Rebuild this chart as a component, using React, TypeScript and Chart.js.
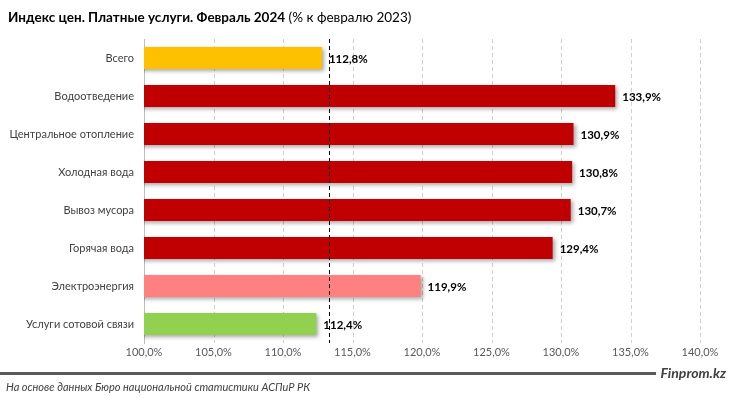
import React, { useEffect, useRef } from "react";
import { Chart, registerables } from "chart.js";

Chart.register(...registerables);

const categories = [
  "Всего",
  "Водоотведение",
  "Центральное отопление",
  "Холодная вода",
  "Вывоз мусора",
  "Горячая вода",
  "Электроэнергия",
  "Услуги сотовой связи",
];
const values = [112.8, 133.9, 130.9, 130.8, 130.7, 129.4, 119.9, 112.4];
const barColors = ["#FFC000", "#C00000", "#C00000", "#C00000", "#C00000", "#C00000", "#FF8080", "#92D050"];
const referenceValue = 113.3;
const axisMin = 100;
const axisMax = 140;
const axisStep = 5;

const FONT = "Lato, 'Liberation Sans', sans-serif";

const fmt = (v: number) => v.toFixed(1).replace(".", ",") + "%";

const gridPlugin = {
  id: "dashedGrid",
  beforeDatasetsDraw(chart: any) {
    const ctx = chart.ctx;
    const xs = chart.scales.x;
    const area = chart.chartArea;
    ctx.save();
    ctx.strokeStyle = "#D0D0D0";
    ctx.lineWidth = 1;
    ctx.setLineDash([4, 3]);
    xs.ticks.forEach((t: any) => {
      if (t.value <= axisMin) return;
      const x = Math.round(xs.getPixelForValue(t.value)) + 0.5;
      ctx.beginPath();
      ctx.moveTo(x, area.top);
      ctx.lineTo(x, area.bottom);
      ctx.stroke();
    });
    ctx.restore();
  },
};

const shadowPlugin = {
  id: "barShadow",
  beforeDatasetsDraw(chart: any) {
    const ctx = chart.ctx;
    ctx.save();
    ctx.shadowColor = "rgba(0,0,0,0.35)";
    ctx.shadowBlur = 4;
    ctx.shadowOffsetX = 2;
    ctx.shadowOffsetY = 2;
  },
  afterDatasetsDraw(chart: any) {
    chart.ctx.restore();
  },
};

const overlayPlugin = {
  id: "overlay",
  afterDatasetsDraw(chart: any) {
    const ctx = chart.ctx;
    const meta = chart.getDatasetMeta(0);
    const data = chart.data.datasets[0].data as number[];
    ctx.save();
    ctx.shadowColor = "transparent";
    ctx.font = `bold 11.5px ${FONT}`;
    ctx.fillStyle = "#000000";
    ctx.textAlign = "left";
    ctx.textBaseline = "middle";
    meta.data.forEach((bar: any, i: number) => {
      ctx.fillText(fmt(data[i]), bar.x + 7, bar.y + 1);
    });
    const x = chart.scales.x.getPixelForValue(referenceValue);
    const area = chart.chartArea;
    ctx.strokeStyle = "#000000";
    ctx.lineWidth = 1;
    ctx.setLineDash([4, 3]);
    ctx.beginPath();
    ctx.moveTo(Math.round(x) + 0.5, area.top);
    ctx.lineTo(Math.round(x) + 0.5, area.bottom);
    ctx.stroke();
    ctx.restore();
  },
};

export default function App() {
  const canvasRef = useRef<HTMLCanvasElement | null>(null);

  useEffect(() => {
    if (!canvasRef.current) return;
    const chart = new Chart(canvasRef.current, {
      type: "bar",
      data: {
        labels: categories,
        datasets: [
          {
            data: values,
            backgroundColor: barColors,
            barPercentage: 0.58,
            categoryPercentage: 1,
          },
        ],
      },
      options: {
        indexAxis: "y",
        animation: false,
        responsive: false,
        maintainAspectRatio: false,
        layout: { padding: { left: 0, right: 31, top: 39, bottom: 35 } },
        plugins: {
          legend: { display: false },
          tooltip: { enabled: false },
        },
        scales: {
          x: {
            min: axisMin,
            max: axisMax,
            ticks: {
              stepSize: axisStep,
              callback: (v: any) => fmt(Number(v)),
              color: "#595959",
              font: { family: FONT, size: 11 },
              padding: 3,
              maxRotation: 0,
            },
            grid: { display: false, drawTicks: false },
            border: { display: false },
            afterFit: (s: any) => {
              s.height = 20;
            },
          },
          y: {
            ticks: {
              color: "#404040",
              font: { family: FONT, size: 11 },
              padding: 10,
            },
            grid: { display: false, drawTicks: false },
            border: { display: true, color: "#BFBFBF", width: 1 },
            afterFit: (s: any) => {
              s.width = 144;
            },
          },
        },
      },
      plugins: [gridPlugin, shadowPlugin, overlayPlugin],
    });
    return () => chart.destroy();
  }, []);

  return (
    <div style={{ position: "fixed", left: 0, top: 0, width: 731, height: 398, background: "#fff", fontFamily: FONT }}>
      <canvas ref={canvasRef} width={731} height={398} style={{ position: "absolute", left: 0, top: 0, width: 731, height: 398 }} />
      <div style={{ position: "absolute", left: 8, top: 7, fontSize: 13.5, lineHeight: "20px", color: "#000", whiteSpace: "nowrap" }}>
        <b>Индекс цен. Платные услуги. Февраль 2024</b> (% к февралю 2023)
      </div>
      <div style={{ position: "absolute", left: 0, top: 372, width: 656, height: 3, background: "#595959" }} />
      <div style={{ position: "absolute", right: 5, top: 364, fontSize: 14, lineHeight: "18px", fontWeight: "bold", fontStyle: "italic", color: "#404040" }}>
        Finprom.kz
      </div>
      <div style={{ position: "absolute", left: 6, top: 379, fontSize: 11, lineHeight: "15px", fontStyle: "italic", color: "#404040", whiteSpace: "nowrap" }}>
        На основе данных Бюро национальной статистики АСПиР РК
      </div>
    </div>
  );
}
